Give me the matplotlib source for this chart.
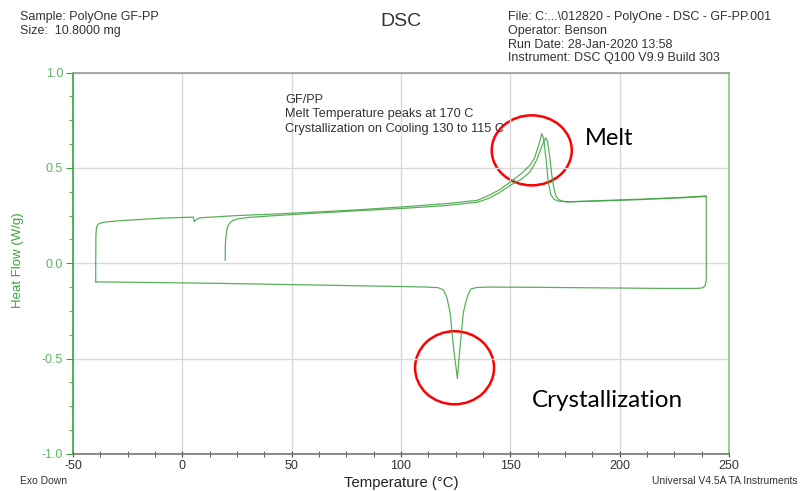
import numpy as np
import matplotlib
matplotlib.use('Agg')
import matplotlib.pyplot as plt
from matplotlib.patches import Ellipse

# first heating, from 20 C up to 240 C
heat1_T = [19.6, 19.7, 20.2, 21, 22.5, 25, 30, 40, 60, 80, 100, 120, 135, 140, 145,
           150, 155, 159, 162, 164, 165.5, 166.2, 167, 168, 169, 170, 171, 172, 173.5,
           176, 190, 210, 230, 239.3]
heat1_HF = [0.016, 0.10, 0.17, 0.20, 0.22, 0.232, 0.240, 0.248, 0.262, 0.275, 0.287,
            0.302, 0.32, 0.34, 0.37, 0.409, 0.44, 0.479, 0.54, 0.60, 0.645, 0.657, 0.64,
            0.56, 0.46, 0.39, 0.35, 0.335, 0.326, 0.322, 0.326, 0.334, 0.344, 0.35]

# cooling, 240 C down to -40 C
cool_T = [239.6, 239.6, 239.0, 237.5, 235, 220, 200, 180, 160, 140, 134.6, 132, 130.8,
          129.5, 128.5, 127, 125.8, 124, 122.5, 121, 119.4, 117, 112, 100, 80, 60, 40,
          20, 0, -20, -38, -39.6]
cool_HF = [0.35, -0.09, -0.12, -0.13, -0.132, -0.132, -0.13, -0.128, -0.126, -0.125,
           -0.127, -0.135, -0.16, -0.21, -0.26, -0.44, -0.604, -0.44, -0.26, -0.18,
           -0.14, -0.128, -0.125, -0.122, -0.118, -0.114, -0.11, -0.106, -0.103, -0.10,
           -0.098, -0.098]

# second heating, -40 C up to 240 C
heat2_T = [-39.6, -39.6, -39.5, -39.2, -38.5, -37, -35, -30, -20, -10, 0, 5, 5.5, 6.5,
           8, 15, 25, 40, 60, 80, 100, 120, 135, 140, 145, 150, 155, 159, 161, 163,
           164.4, 165.3, 166.3, 167.3, 168.5, 170, 172, 176, 190, 210, 230, 239.5]
heat2_HF = [-0.098, 0.0, 0.15, 0.19, 0.205, 0.212, 0.216, 0.222, 0.229, 0.236, 0.24,
            0.242, 0.218, 0.23, 0.238, 0.243, 0.25, 0.257, 0.268, 0.28, 0.295, 0.312,
            0.33, 0.355, 0.385, 0.426, 0.47, 0.514, 0.55, 0.62, 0.68, 0.65, 0.55, 0.43,
            0.36, 0.335, 0.326, 0.322, 0.328, 0.336, 0.346, 0.353]

x_ticks = [-50, 0, 50, 100, 150, 200, 250]
y_ticks = [-1.0, -0.5, 0.0, 0.5, 1.0]

notes = ['GF/PP', 'Melt Temperature peaks at 170 C', 'Crystallization on Cooling 130 to 115 C']
head_left = ['Sample: PolyOne GF-PP', 'Size:  10.8000 mg']
head_right = ['File: C:...\\012820 - PolyOne - DSC - GF-PP.001', 'Operator: Benson',
              'Run Date: 28-Jan-2020 13:58', 'Instrument: DSC Q100 V9.9 Build 303']

green = '#3da33d'
lbl_green = '#5cb85c'
txt = '#333333'

plt.rcParams['font.family'] = ['Liberation Sans', 'DejaVu Sans']

fig = plt.figure(figsize=(8.01, 4.91), dpi=100)
ax = fig.add_axes([0.0911, 0.0754, 0.8190, 0.7769])

ax.plot(heat1_T, heat1_HF, color=green, lw=0.9, alpha=0.85)
ax.plot(cool_T, cool_HF, color=green, lw=0.9, alpha=0.85)
ax.plot(heat2_T, heat2_HF, color=green, lw=0.9, alpha=0.85)

ax.set_xlim(-50, 250)
ax.set_ylim(-1.0, 1.0)
ax.set_xticks(x_ticks)
ax.set_yticks(y_ticks)
ax.set_xticks(np.arange(-50, 251, 12.5), minor=True)
ax.set_yticks(np.arange(-1.0, 1.01, 0.125), minor=True)
ax.set_xticklabels([str(v) for v in x_ticks], color=txt, fontsize=9)
ax.set_yticklabels(['%.1f' % v for v in y_ticks], color=lbl_green, fontsize=9)
ax.tick_params(axis='x', direction='inout', length=5, colors='#444444', labelcolor=txt, pad=2)
ax.tick_params(axis='x', which='minor', direction='inout', length=4, colors='#444444')
ax.tick_params(axis='y', direction='out', length=5, colors=green, labelcolor=lbl_green, pad=2)
ax.tick_params(axis='y', which='minor', direction='out', length=3, colors=green)
ax.grid(True, which='major', color='#d8d8d8', lw=1)

ax.spines['left'].set_color(green)
ax.spines['right'].set_color('#7fcf7f')
ax.spines['top'].set_color('#999999')
ax.spines['bottom'].set_color('#777777')
for s in ax.spines.values():
    s.set_linewidth(1.2)

ax.set_xlabel('Temperature (°C)', fontsize=10.7, color='#222222')
ax.xaxis.set_label_coords(0.5, -0.076)
ax.xaxis.label.set_va('center')
ax.set_ylabel('Heat Flow (W/g)', fontsize=9.5, color=green)
ax.yaxis.set_label_coords(-0.084, 0.508)
ax.yaxis.label.set_va('center')

# notes in the plot
for i, line in enumerate(notes):
    fig.text(285/801, 1-(100 + 14.5*i)/491, line, fontsize=9.2, color=txt, va='center')

# red circles + labels
ax.add_patch(Ellipse((159.8, 0.592), 36.6, 0.367, fill=False, ec='red', lw=1.8))
ax.add_patch(Ellipse((124.5, -0.548), 36.1, 0.383, fill=False, ec='red', lw=1.8))
ax.text(184.2, 0.655, 'Melt', fontsize=17, family='Lato', color='black', va='center')
ax.text(160, -0.718, 'Crystallization', fontsize=17.5, family='Lato', color='black', va='center')

# header
for i, line in enumerate(head_left):
    fig.text(20/801, 1-(17 + 14*i)/491, line, fontsize=9, color=txt, va='center')
fig.text(401/801, 1-22/491, 'DSC', fontsize=14, color=txt, ha='center', va='center')
for i, line in enumerate(head_right):
    fig.text(508/801, 1-(17 + 13.8*i)/491, line, fontsize=9, color=txt, va='center')
fig.text(20/801, 1-481/491, 'Exo Down', fontsize=7.5, color=txt, va='center')
fig.text(798/801, 1-481/491, 'Universal V4.5A TA Instruments', fontsize=7.5, color=txt,
         va='center', ha='right')

fig.savefig('out.png', dpi=100)
